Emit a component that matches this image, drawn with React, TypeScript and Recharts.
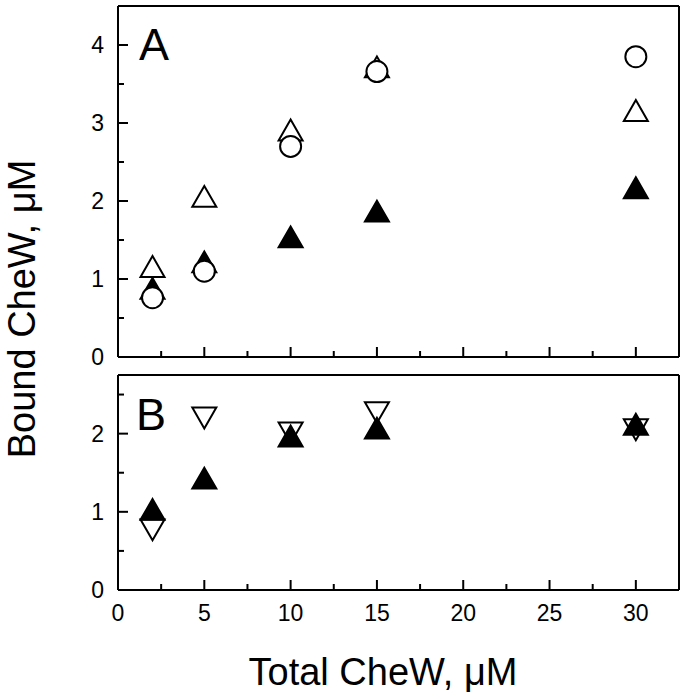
import { ScatterChart, Scatter, XAxis, YAxis } from 'recharts';

// Total CheW (µM) on the x axis
const totalCheW = [2, 5, 10, 15, 30];

// Panel A – bound CheW, µM
const aOpenCircle = [0.76, 1.1, 2.7, 3.66, 3.85];
const aOpenTriangle = [1.16, 2.06, 2.91, 3.72, 3.16];
const aFilledTriangle = [0.88, 1.22, 1.54, 1.87, 2.17];

// Panel B – bound CheW, µM
const bOpenDown = [0.77, 2.2, 2.01, 2.27, 2.05];
const bFilledTriangle = [1.03, 1.43, 1.97, 2.07, 2.12];

const xTicks = [0, 2.5, 5, 7.5, 10, 12.5, 15, 17.5, 20, 22.5, 25, 27.5, 30];
const yTicksA = [0, 0.5, 1, 1.5, 2, 2.5, 3, 3.5, 4];
const yTicksB = [0, 0.5, 1, 1.5, 2, 2.5];

const FONT = '"Liberation Sans", Arial, Helvetica, sans-serif';

const toPoints = (ys: number[]) => totalCheW.map((x, i) => ({ x, y: ys[i] }));

type Kind = 'circle' | 'up' | 'upFilled' | 'down';

function makeShape(kind: Kind) {
  return (props: any) => {
    const { cx, cy } = props;
    if (cx == null || cy == null) return <g />;
    const w = 12;   // half width of triangles
    const h = 10.4; // half height of triangles
    if (kind === 'circle') {
      return <circle cx={cx} cy={cy} r={10.5} fill="#fff" stroke="#000" strokeWidth={2} />;
    }
    if (kind === 'down') {
      const pts = `${cx - w},${cy - h} ${cx + w},${cy - h} ${cx},${cy + h}`;
      return <polygon points={pts} fill="#fff" stroke="#000" strokeWidth={2} />;
    }
    const pts = `${cx},${cy - h} ${cx + w},${cy + h} ${cx - w},${cy + h}`;
    const filled = kind === 'upFilled';
    return <polygon points={pts} fill={filled ? '#000' : '#fff'} stroke="#000" strokeWidth={2} />;
  };
}

// inward ticks, labels outside (only on bottom/left when asked)
function AxisTick(props: any) {
  const { x, y, payload, side, majorStep, showLabels } = props;
  const v = payload.value as number;
  const major = Math.abs(v / majorStep - Math.round(v / majorStep)) < 1e-6;
  const len = major ? 10 : 6;
  let line = null;
  let label = null;
  if (side === 'bottom') {
    line = <line x1={x} y1={y} x2={x} y2={y - len} stroke="#000" strokeWidth={2} />;
    if (showLabels && major)
      label = <text x={x} y={y + 31} textAnchor="middle" fontSize={23} fontFamily={FONT} fill="#000">{v}</text>;
  } else if (side === 'top') {
    line = <line x1={x} y1={y} x2={x} y2={y + len} stroke="#000" strokeWidth={2} />;
  } else if (side === 'left') {
    line = <line x1={x} y1={y} x2={x + len} y2={y} stroke="#000" strokeWidth={2} />;
    if (showLabels && major)
      label = <text x={x - 14} y={y + 8} textAnchor="end" fontSize={23} fontFamily={FONT} fill="#000">{v}</text>;
  } else {
    line = <line x1={x} y1={y} x2={x - len} y2={y} stroke="#000" strokeWidth={2} />;
  }
  return (
    <g>
      {line}
      {label}
    </g>
  );
}

const axisLine = { stroke: '#000', strokeWidth: 2 };

function frame(yDomain: [number, number], yTicks: number[], xLabels: boolean) {
  return [
    <XAxis key="xb" xAxisId="b" type="number" dataKey="x" domain={[0, 32.5]} ticks={xTicks} interval={0}
      height={1} tickSize={0} tickMargin={0} tickLine={false} axisLine={axisLine}
      tick={<AxisTick side="bottom" majorStep={5} showLabels={xLabels} />} />,
    <XAxis key="xt" xAxisId="t" orientation="top" type="number" dataKey="x" domain={[0, 32.5]} ticks={xTicks} interval={0}
      height={1} tickSize={0} tickMargin={0} tickLine={false} axisLine={axisLine}
      tick={<AxisTick side="top" majorStep={5} />} />,
    <YAxis key="yl" yAxisId="l" type="number" dataKey="y" domain={yDomain} ticks={yTicks} interval={0}
      width={1} tickSize={0} tickMargin={0} tickLine={false} axisLine={axisLine}
      tick={<AxisTick side="left" majorStep={1} showLabels />} />,
    <YAxis key="yr" yAxisId="r" orientation="right" type="number" dataKey="y" domain={yDomain} ticks={yTicks} interval={0}
      width={1} tickSize={0} tickMargin={0} tickLine={false} axisLine={axisLine}
      tick={<AxisTick side="right" majorStep={1} />} />,
  ];
}

export default function App() {
  return (
    <div style={{ position: 'absolute', left: 0, top: 0, width: 687, height: 699, background: '#fff' }}>
      <div style={{ position: 'absolute', left: 0, top: 0 }}>
        <ScatterChart width={687} height={374} margin={{ top: 5, right: 7, bottom: 16, left: 117 }}>
          {frame([0, 4.5], yTicksA, false)}
          <Scatter xAxisId="b" yAxisId="l" data={toPoints(aOpenTriangle)} shape={makeShape('up')} isAnimationActive={false} />
          <Scatter xAxisId="b" yAxisId="l" data={toPoints(aFilledTriangle)} shape={makeShape('upFilled')} isAnimationActive={false} />
          <Scatter xAxisId="b" yAxisId="l" data={toPoints(aOpenCircle)} shape={makeShape('circle')} isAnimationActive={false} />
        </ScatterChart>
      </div>
      <div style={{ position: 'absolute', left: 0, top: 362 }}>
        <ScatterChart width={687} height={337} margin={{ top: 12, right: 7, bottom: 108, left: 117 }}>
          {frame([0, 2.75], yTicksB, true)}
          <Scatter xAxisId="b" yAxisId="l" data={toPoints(bOpenDown)} shape={makeShape('down')} isAnimationActive={false} />
          <Scatter xAxisId="b" yAxisId="l" data={toPoints(bFilledTriangle)} shape={makeShape('upFilled')} isAnimationActive={false} />
        </ScatterChart>
      </div>
      <svg width={687} height={699} style={{ position: 'absolute', left: 0, top: 0, pointerEvents: 'none' }}>
        <text x={139} y={60} fontSize={45} fontFamily={FONT} fill="#000">A</text>
        <text x={136} y={430} fontSize={45} fontFamily={FONT} fill="#000">B</text>
        <text x={383} y={685} textAnchor="middle" fontSize={38} fontFamily={FONT} fill="#000">Total CheW, μM</text>
        <text transform="translate(35 309) rotate(-90)" textAnchor="middle" fontSize={38} fontFamily={FONT} fill="#000">
          Bound CheW, μM
        </text>
      </svg>
    </div>
  );
}
